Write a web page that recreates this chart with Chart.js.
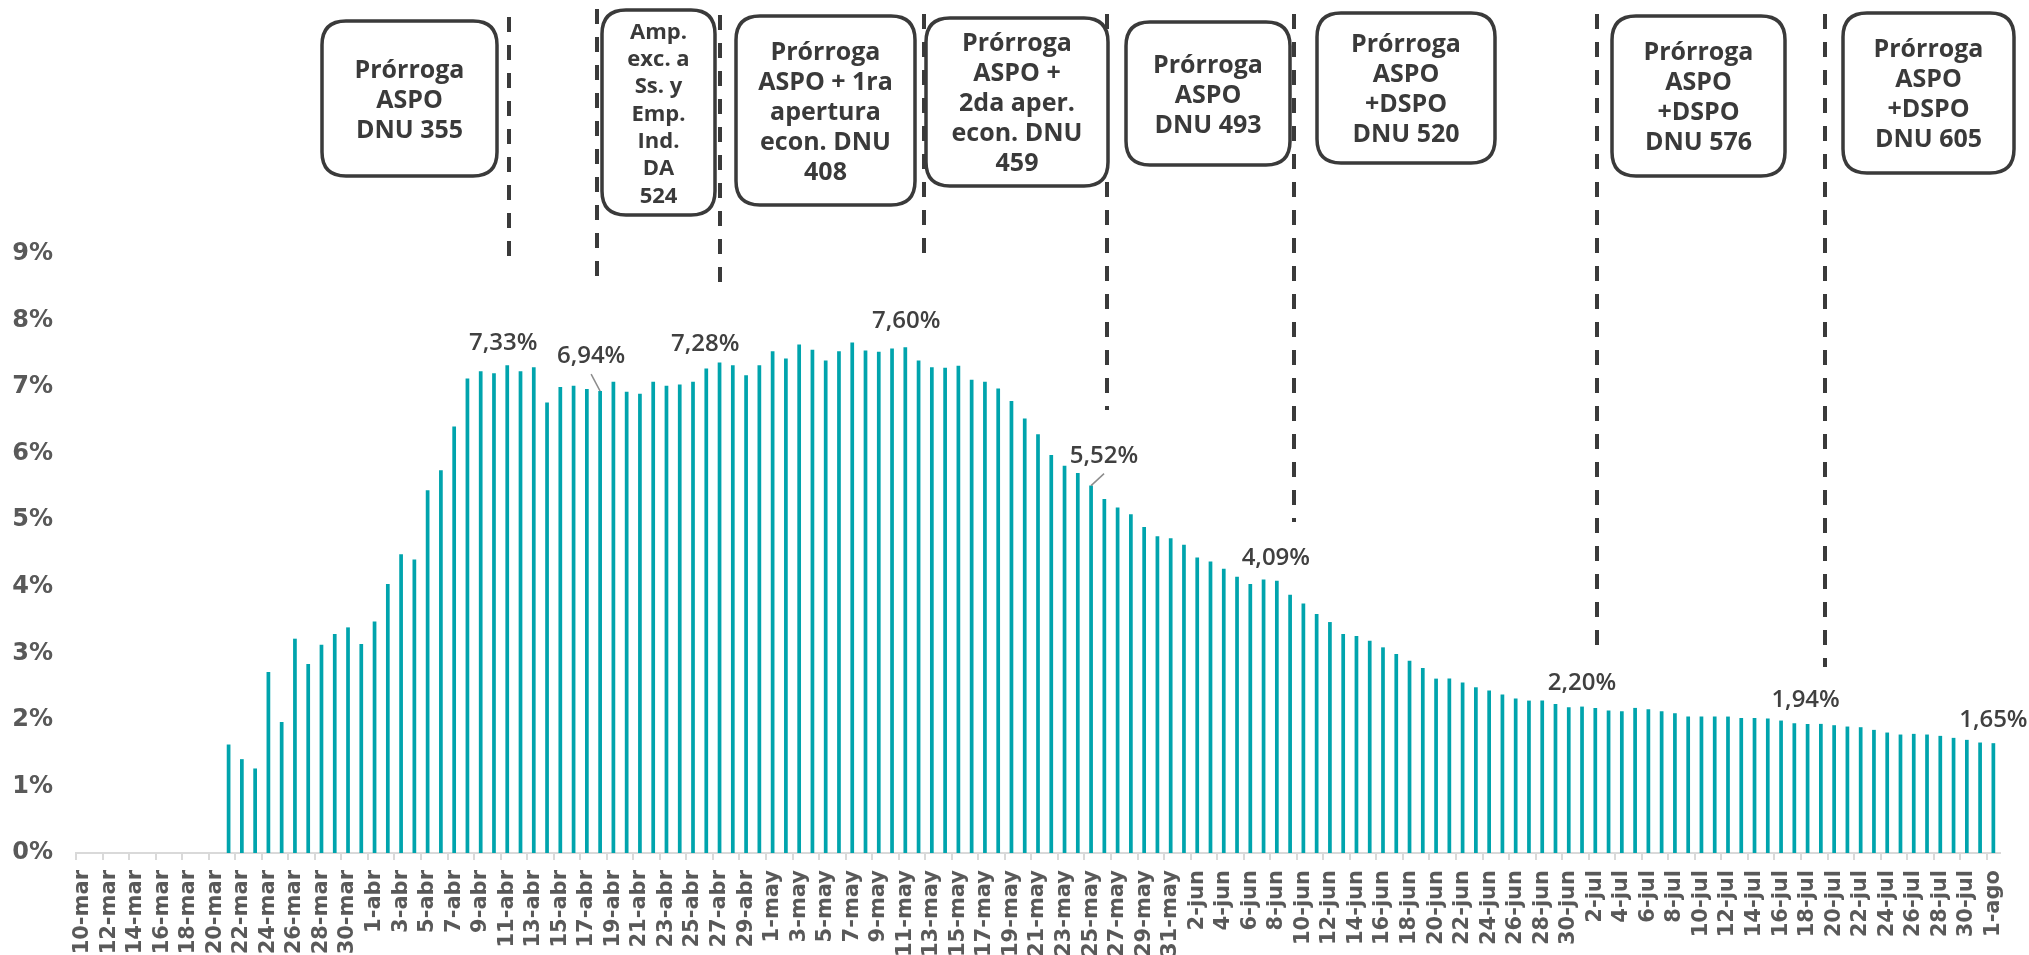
<!DOCTYPE html>
<html>
<head>
<meta charset="utf-8">
<script src="https://cdn.jsdelivr.net/npm/chart.js@4.4.1/dist/chart.umd.min.js"></script>
<style>
    html, body { margin: 0; padding: 0; background: #fff; }
    #wrap { position: relative; width: 2029px; height: 955px; }
</style>
</head>
<body>
<div id="wrap"><canvas id="chart"></canvas></div>
<script>
// dias (eje x)
const days = [
    '10-mar','11-mar','12-mar','13-mar','14-mar','15-mar','16-mar','17-mar','18-mar','19-mar','20-mar',
    '21-mar','22-mar','23-mar','24-mar','25-mar','26-mar','27-mar','28-mar','29-mar','30-mar','31-mar',
    '1-abr','2-abr','3-abr','4-abr','5-abr','6-abr','7-abr','8-abr','9-abr','10-abr',
    '11-abr','12-abr','13-abr','14-abr','15-abr','16-abr','17-abr','18-abr','19-abr','20-abr',
    '21-abr','22-abr','23-abr','24-abr','25-abr','26-abr','27-abr','28-abr','29-abr','30-abr',
    '1-may','2-may','3-may','4-may','5-may','6-may','7-may','8-may','9-may','10-may',
    '11-may','12-may','13-may','14-may','15-may','16-may','17-may','18-may','19-may','20-may',
    '21-may','22-may','23-may','24-may','25-may','26-may','27-may','28-may','29-may','30-may','31-may',
    '1-jun','2-jun','3-jun','4-jun','5-jun','6-jun','7-jun','8-jun','9-jun','10-jun',
    '11-jun','12-jun','13-jun','14-jun','15-jun','16-jun','17-jun','18-jun','19-jun','20-jun',
    '21-jun','22-jun','23-jun','24-jun','25-jun','26-jun','27-jun','28-jun','29-jun','30-jun',
    '1-jul','2-jul','3-jul','4-jul','5-jul','6-jul','7-jul','8-jul','9-jul','10-jul',
    '11-jul','12-jul','13-jul','14-jul','15-jul','16-jul','17-jul','18-jul','19-jul','20-jul',
    '21-jul','22-jul','23-jul','24-jul','25-jul','26-jul','27-jul','28-jul','29-jul','30-jul','31-jul',
    '1-ago'
];

// % diario
const share = [
    null, null, null, null, null, null, null, null, null, null, null,
    1.63, 1.41, 1.27, 2.72, 1.97, 3.22, 2.84, 3.13, 3.29, 3.39, 3.14,
    3.48, 4.04, 4.49, 4.41, 5.45, 5.75, 6.41, 7.13, 7.24, 7.21,
    7.33, 7.24, 7.30, 6.77, 7.00, 7.02, 6.97, 6.94, 7.08, 6.93,
    6.90, 7.08, 7.02, 7.04, 7.08, 7.28, 7.37, 7.33, 7.18, 7.33,
    7.54, 7.43, 7.64, 7.56, 7.40, 7.54, 7.67, 7.55, 7.53, 7.58,
    7.60, 7.40, 7.30, 7.29, 7.32, 7.11, 7.08, 6.98, 6.79, 6.53,
    6.29, 5.98, 5.82, 5.71, 5.52, 5.32, 5.19, 5.09, 4.90, 4.76, 4.73,
    4.63, 4.44, 4.38, 4.27, 4.15, 4.04, 4.11, 4.09, 3.88, 3.75,
    3.59, 3.47, 3.29, 3.26, 3.19, 3.09, 2.99, 2.89, 2.78, 2.62,
    2.62, 2.56, 2.49, 2.44, 2.38, 2.32, 2.29, 2.29, 2.24, 2.19,
    2.20, 2.18, 2.14, 2.13, 2.18, 2.16, 2.13, 2.10, 2.05, 2.05,
    2.05, 2.05, 2.03, 2.03, 2.02, 1.99, 1.95, 1.94, 1.94, 1.92,
    1.90, 1.89, 1.85, 1.81, 1.78, 1.79, 1.78, 1.76, 1.73, 1.70, 1.66,
    1.65
];

const yTickStep = 1;
const yMax = 9;

// etiquetas destacadas
const calloutDays = ['11-abr', '18-abr', '26-abr', '11-may', '25-may', '8-jun', '1-jul', '18-jul', '1-ago'];
// [dx, dy] desde la punta de la barra; el tercer valor es el inicio de la linea guia
const calloutOffsets = [[-4, -22], [-9, -35, [0, 18]], [-1, -24], [1, -26], [13, -29, [0, 17]], [-1, -23], [0, -23], [-2, -24], [0, -23]];

// lineas punteadas (posicion en categorias) y su extension vertical
const eventPos = [32.1, 38.8, 48.0, 63.4, 77.2, 91.3, 114.1, 131.3];
const eventTop = [17, 9, 15, 14, 14, 14, 14, 14];
const eventBottom = [261, 280, 287, 256, 410, 522, 655, 667];

// recuadros de texto
const boxes = [
    { x0: 322, x1: 497, y0: 21, y1: 176, size: 25, lh: 30, lines: ['Prórroga', 'ASPO', 'DNU 355'] },
    { x0: 602, x1: 715, y0: 10, y1: 215, size: 22, lh: 27.3, lines: ['Amp.', 'exc. a', 'Ss. y', 'Emp.', 'Ind.', 'DA', '524'] },
    { x0: 736, x1: 915, y0: 16, y1: 205, size: 25, lh: 30, lines: ['Prórroga', 'ASPO + 1ra', 'apertura', 'econ. DNU', '408'] },
    { x0: 926, x1: 1108, y0: 18, y1: 186, size: 25, lh: 30, lines: ['Prórroga', 'ASPO +', '2da aper.', 'econ. DNU', '459'] },
    { x0: 1126, x1: 1290, y0: 22, y1: 165, size: 25, lh: 30, lines: ['Prórroga', 'ASPO', 'DNU 493'] },
    { x0: 1317, x1: 1495, y0: 13, y1: 163, size: 25, lh: 30, lines: ['Prórroga', 'ASPO', '+DSPO', 'DNU 520'] },
    { x0: 1612, x1: 1785, y0: 16, y1: 176, size: 25, lh: 30, lines: ['Prórroga', 'ASPO', '+DSPO', 'DNU 576'] },
    { x0: 1843, x1: 2014, y0: 13, y1: 173, size: 25, lh: 30, lines: ['Prórroga', 'ASPO', '+DSPO', 'DNU 605'] }
];

const FONT = '"Open Sans", "DejaVu Sans", sans-serif';
const AXIS_FONT = '"DejaVu Sans", sans-serif';
const fmtPct = v => v.toFixed(2).replace('.', ',') + '%';

function roundRectPath(ctx, x, y, w, h, r) {
    ctx.beginPath();
    ctx.moveTo(x + r, y);
    ctx.lineTo(x + w - r, y);
    ctx.quadraticCurveTo(x + w, y, x + w, y + r);
    ctx.lineTo(x + w, y + h - r);
    ctx.quadraticCurveTo(x + w, y + h, x + w - r, y + h);
    ctx.lineTo(x + r, y + h);
    ctx.quadraticCurveTo(x, y + h, x, y + h - r);
    ctx.lineTo(x, y + r);
    ctx.quadraticCurveTo(x, y, x + r, y);
    ctx.closePath();
}

const annotationsPlugin = {
    id: 'annotations',
    afterDraw(chart) {
        const ctx = chart.ctx;
        const xScale = chart.scales.x;
        ctx.save();

        // lineas punteadas
        ctx.strokeStyle = '#3a3a3a';
        ctx.lineWidth = 4;
        ctx.setLineDash([15, 13]);
        eventPos.forEach((p, k) => {
            const x = Math.round(xScale.getPixelForValue(p));
            ctx.beginPath();
            ctx.moveTo(x, eventTop[k]);
            ctx.lineTo(x, eventBottom[k]);
            ctx.stroke();
        });
        ctx.setLineDash([]);

        // recuadros
        boxes.forEach(b => {
            roundRectPath(ctx, b.x0, b.y0, b.x1 - b.x0, b.y1 - b.y0, 24);
            ctx.fillStyle = '#ffffff';
            ctx.fill();
            ctx.lineWidth = 3.5;
            ctx.strokeStyle = '#3a3a3a';
            ctx.stroke();
            ctx.fillStyle = '#3a3a3a';
            ctx.font = `bold ${b.size}px ${FONT}`;
            ctx.textAlign = 'center';
            ctx.textBaseline = 'middle';
            const cx = (b.x0 + b.x1) / 2;
            const cy = (b.y0 + b.y1) / 2 + 2;
            const n = b.lines.length;
            b.lines.forEach((t, j) => ctx.fillText(t, cx, cy + (j - (n - 1) / 2) * b.lh));
        });

        // etiquetas de valores
        const meta = chart.getDatasetMeta(0);
        ctx.font = `600 24px ${FONT}`;
        ctx.fillStyle = '#404040';
        ctx.textAlign = 'center';
        ctx.textBaseline = 'middle';
        calloutDays.forEach((d, k) => {
            const i = days.indexOf(d);
            const bar = meta.data[i];
            const off = calloutOffsets[k];
            const tx = bar.x + off[0], ty = bar.y + off[1];
            ctx.fillText(fmtPct(share[i]), tx, ty);
            if (off[2]) {
                ctx.strokeStyle = '#8c8c8c';
                ctx.lineWidth = 1.5;
                ctx.beginPath();
                ctx.moveTo(tx + off[2][0], ty + off[2][1]);
                ctx.lineTo(bar.x, bar.y);
                ctx.stroke();
            }
        });
        ctx.restore();
    }
};

new Chart(document.getElementById('chart').getContext('2d'), {
    type: 'bar',
    data: {
        labels: days,
        datasets: [{ data: share, backgroundColor: '#00a4ad', barPercentage: 0.28, categoryPercentage: 1 }]
    },
    options: {
        responsive: true,
        maintainAspectRatio: false,
        animation: false,
        layout: { padding: { top: 254, left: 12, right: 29, bottom: 0 } },
        plugins: { legend: { display: false }, tooltip: { enabled: false } },
        scales: {
            x: {
                afterFit: s => { s.height = 102; },
                grid: {
                    drawOnChartArea: false, offset: true, tickLength: 7, lineWidth: 2,
                    tickColor: c => (c.index % 2 === 0 ? '#d9d9d9' : 'rgba(0,0,0,0)')
                },
                border: { display: true, color: '#d9d9d9', width: 2 },
                ticks: {
                    autoSkip: false, minRotation: 90, maxRotation: 90, padding: 10,
                    color: '#595959', font: { family: AXIS_FONT, size: 21, weight: 'bold' },
                    callback: function (v, i) { return i % 2 === 0 ? this.getLabelForValue(v) : ''; }
                }
            },
            y: {
                min: 0, max: yMax,
                afterFit: s => { s.width = 64; },
                grid: { display: false, drawTicks: false },
                border: { display: false },
                ticks: {
                    stepSize: yTickStep, padding: 23,
                    color: '#595959', font: { family: AXIS_FONT, size: 24, weight: 'bold' },
                    callback: v => v + '%'
                }
            }
        }
    },
    plugins: [annotationsPlugin]
});
</script>
</body>
</html>
